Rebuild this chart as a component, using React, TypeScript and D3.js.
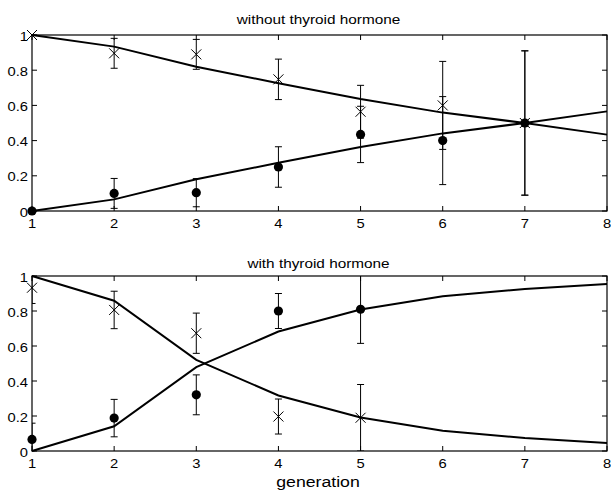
import React from "react";
import * as d3 from "d3";

const generations = [1, 2, 3, 4, 5, 6, 7, 8];
const yTicks = [0, 0.2, 0.4, 0.6, 0.8, 1];

// Panel 1: without thyroid hormone
const p1Title = "without thyroid hormone";
const p1ModelDecr = [1.0, 0.934, 0.82, 0.726, 0.636, 0.559, 0.5, 0.434];
const p1ModelIncr = [0.0, 0.066, 0.18, 0.274, 0.364, 0.441, 0.5, 0.566];
const p1CrossGen = [1, 2, 3, 4, 5, 6, 7];
const p1CrossVal = [1.0, 0.896, 0.89, 0.748, 0.564, 0.6, 0.5];
const p1CrossErr = [0, 0.085, 0.085, 0.115, 0.15, 0.25, 0.41];
const p1DotGen = [1, 2, 3, 4, 5, 6, 7];
const p1DotVal = [0.0, 0.1, 0.104, 0.25, 0.435, 0.4, 0.5];
const p1DotErr = [0, 0.085, 0.08, 0.115, 0.16, 0.25, 0.41];

// Panel 2: with thyroid hormone
const p2Title = "with thyroid hormone";
const p2ModelDecr = [1.0, 0.859, 0.521, 0.317, 0.192, 0.116, 0.074, 0.046];
const p2ModelIncr = [0.0, 0.141, 0.479, 0.683, 0.808, 0.884, 0.926, 0.954];
const p2CrossGen = [1, 2, 3, 4, 5];
const p2CrossVal = [0.933, 0.806, 0.673, 0.197, 0.19];
const p2CrossErr = [0.09, 0.107, 0.115, 0.1, 0.19];
const p2DotGen = [1, 2, 3, 4, 5];
const p2DotVal = [0.066, 0.188, 0.321, 0.8, 0.81];
const p2DotErr = [0.093, 0.107, 0.114, 0.1, 0.195];

const xLabel = "generation";

const W = 611;
const H = 492;
const FONT = "'Liberation Sans', Arial, Helvetica, sans-serif";
const SX = 1.18;

function Txt(props: { x: number; y: number; size: number; anchor: string; children: React.ReactNode }) {
  return (
    <text
      transform={`translate(${props.x},${props.y}) scale(${SX},1)`}
      textAnchor={props.anchor}
      fontFamily={FONT}
      fontSize={props.size}
      fill="#000"
    >
      {props.children}
    </text>
  );
}

type PanelProps = {
  id: string;
  top: number;
  bottom: number;
  titleGap: number;
  title: string;
  decr: number[];
  incr: number[];
  crossGen: number[];
  crossVal: number[];
  crossErr: number[];
  dotGen: number[];
  dotVal: number[];
  dotErr: number[];
};

function Panel(p: PanelProps) {
  const left = 32;
  const right = 607;
  const x = d3.scaleLinear().domain([1, 8]).range([left, right]);
  const y = d3.scaleLinear().domain([0, 1]).range([p.bottom, p.top]);
  const line = d3
    .line<number>()
    .x((_, i) => x(generations[i]))
    .y((d) => y(d));
  const tick = 5;
  const cap = 3.5;
  const cs = 5;
  const clipId = `clip-${p.id}`;
  return (
    <g>
      <defs>
        <clipPath id={clipId}>
          <rect x={left} y={p.top} width={right - left} height={p.bottom - p.top} />
        </clipPath>
      </defs>
      <Txt x={318.5} y={p.top - p.titleGap} size={13} anchor="middle">
        {p.title}
      </Txt>
      {/* ticks */}
      {generations.map((g) => (
        <g key={`xt${g}`}>
          <line x1={x(g)} x2={x(g)} y1={p.bottom} y2={p.bottom - tick} stroke="#000" strokeWidth={1} />
          <line x1={x(g)} x2={x(g)} y1={p.top} y2={p.top + tick} stroke="#000" strokeWidth={1} />
          <Txt x={x(g)} y={p.bottom + 16.5} size={12.5} anchor="middle">
            {g}
          </Txt>
        </g>
      ))}
      {yTicks.map((t) => (
        <g key={`yt${t}`}>
          <line x1={left} x2={left + tick} y1={y(t)} y2={y(t)} stroke="#000" strokeWidth={1} />
          <line x1={right} x2={right - tick} y1={y(t)} y2={y(t)} stroke="#000" strokeWidth={1} />
          <Txt x={left - 4} y={y(t) + 5.5} size={12.5} anchor="end">
            {t}
          </Txt>
        </g>
      ))}
      {/* error bars */}
      <g clipPath={`url(#${clipId})`} stroke="#000" strokeWidth={1}>
        {p.crossGen.map((g, i) =>
          p.crossErr[i] > 0 ? (
            <g key={`ce${i}`}>
              <line x1={x(g)} x2={x(g)} y1={y(p.crossVal[i] - p.crossErr[i])} y2={y(p.crossVal[i] + p.crossErr[i])} />
              <line x1={x(g) - cap} x2={x(g) + cap} y1={y(p.crossVal[i] - p.crossErr[i])} y2={y(p.crossVal[i] - p.crossErr[i])} />
              <line x1={x(g) - cap} x2={x(g) + cap} y1={y(p.crossVal[i] + p.crossErr[i])} y2={y(p.crossVal[i] + p.crossErr[i])} />
            </g>
          ) : null
        )}
        {p.dotGen.map((g, i) =>
          p.dotErr[i] > 0 ? (
            <g key={`de${i}`}>
              <line x1={x(g)} x2={x(g)} y1={y(p.dotVal[i] - p.dotErr[i])} y2={y(p.dotVal[i] + p.dotErr[i])} />
              <line x1={x(g) - cap} x2={x(g) + cap} y1={y(p.dotVal[i] - p.dotErr[i])} y2={y(p.dotVal[i] - p.dotErr[i])} />
              <line x1={x(g) - cap} x2={x(g) + cap} y1={y(p.dotVal[i] + p.dotErr[i])} y2={y(p.dotVal[i] + p.dotErr[i])} />
            </g>
          ) : null
        )}
      </g>
      {/* model lines */}
      <path d={line(p.decr) || ""} fill="none" stroke="#000" strokeWidth={2} />
      <path d={line(p.incr) || ""} fill="none" stroke="#000" strokeWidth={2} />
      {/* markers */}
      {p.crossGen.map((g, i) => (
        <g key={`cm${i}`} stroke="#000" strokeWidth={1}>
          <line x1={x(g) - cs} x2={x(g) + cs} y1={y(p.crossVal[i]) - cs} y2={y(p.crossVal[i]) + cs} />
          <line x1={x(g) - cs} x2={x(g) + cs} y1={y(p.crossVal[i]) + cs} y2={y(p.crossVal[i]) - cs} />
        </g>
      ))}
      {p.dotGen.map((g, i) => (
        <circle key={`dm${i}`} cx={x(g)} cy={y(p.dotVal[i])} r={4.6} fill="#000" />
      ))}
      {/* box */}
      <rect x={left} y={p.top} width={right - left} height={p.bottom - p.top} fill="none" stroke="#000" strokeWidth={1.2} />
    </g>
  );
}

export default function App() {
  return (
    <svg
      width={W}
      height={H}
      viewBox={`0 0 ${W} ${H}`}
      style={{ position: "absolute", left: 0, top: 0, background: "#fff" }}
    >
      <rect x={0} y={0} width={W} height={H} fill="#fff" />
      <Panel
        id="p1"
        top={35}
        bottom={211}
        titleGap={11}
        title={p1Title}
        decr={p1ModelDecr}
        incr={p1ModelIncr}
        crossGen={p1CrossGen}
        crossVal={p1CrossVal}
        crossErr={p1CrossErr}
        dotGen={p1DotGen}
        dotVal={p1DotVal}
        dotErr={p1DotErr}
      />
      <Panel
        id="p2"
        top={276}
        bottom={451}
        titleGap={8.5}
        title={p2Title}
        decr={p2ModelDecr}
        incr={p2ModelIncr}
        crossGen={p2CrossGen}
        crossVal={p2CrossVal}
        crossErr={p2CrossErr}
        dotGen={p2DotGen}
        dotVal={p2DotVal}
        dotErr={p2DotErr}
      />
      <Txt x={318} y={487} size={15} anchor="middle">
        {xLabel}
      </Txt>
    </svg>
  );
}
